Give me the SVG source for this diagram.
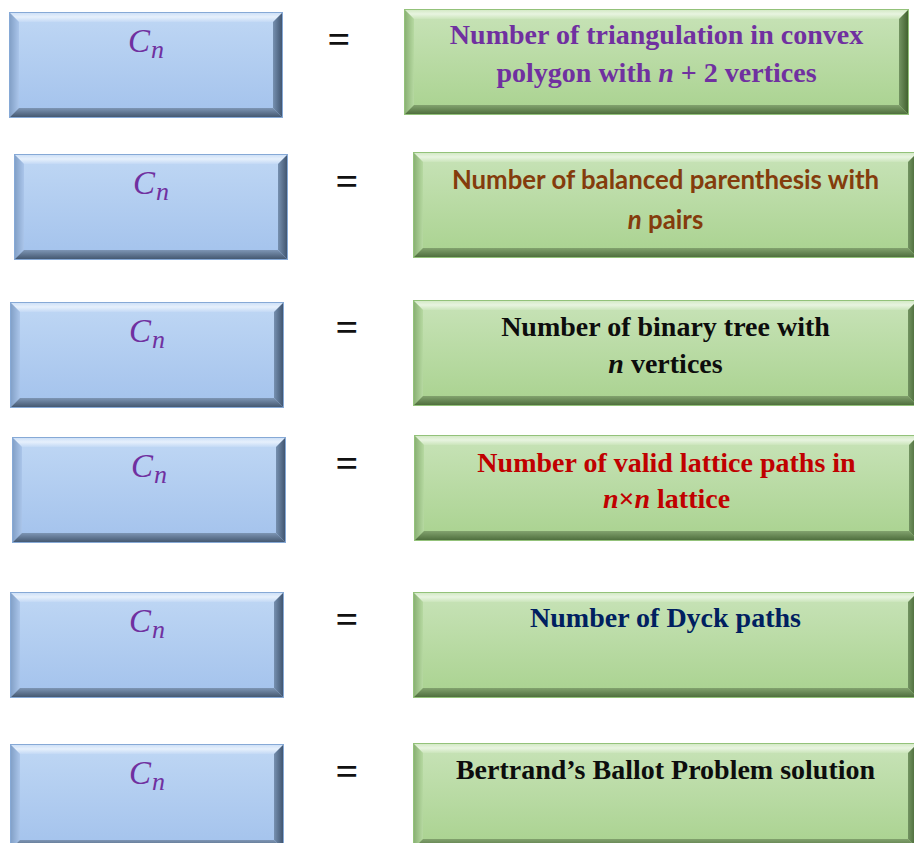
<svg xmlns="http://www.w3.org/2000/svg" xmlns:xlink="http://www.w3.org/1999/xlink" width="914" height="843" viewBox="0 0 914 843">
  <style>
    .cn { font-family: "Liberation Serif", "DejaVu Serif", serif; font-style: italic; fill: #7030a0; font-size: 33px; }
    .cn .sub { font-size: 26px; }
    .eq { font-family: "Liberation Serif", "DejaVu Serif", serif; font-size: 40px; font-weight: bold; fill: #111111; text-anchor: middle; }
    .tr { font-family: "Liberation Serif", "Times New Roman", serif; font-weight: bold; font-size: 28px; text-anchor: middle; }
    .sans { font-family: Lato, "Liberation Sans", sans-serif; font-weight: bold; font-size: 25.8px; text-anchor: middle; }
    .it { font-style: italic; }
  </style>
  <defs>
    <linearGradient id="bBody" x1="0" y1="0" x2="0" y2="1">
      <stop offset="0" stop-color="#bfd7f4"/>
      <stop offset="1" stop-color="#a3c2ec"/>
    </linearGradient>
    <linearGradient id="bTop" x1="0" y1="0" x2="0" y2="1">
      <stop offset="0" stop-color="#c9ddf6"/>
      <stop offset="0.5" stop-color="#e6f0fc"/>
      <stop offset="1" stop-color="#c3d9f5"/>
    </linearGradient>
    <linearGradient id="bLeft" x1="0" y1="0" x2="1" y2="0">
      <stop offset="0" stop-color="#7f9dc4"/>
      <stop offset="1" stop-color="#aac5ea"/>
    </linearGradient>
    <linearGradient id="bRight" x1="1" y1="0" x2="0" y2="0">
      <stop offset="0" stop-color="#3c506a"/>
      <stop offset="1" stop-color="#7690b0"/>
    </linearGradient>
    <linearGradient id="bBottom" x1="0" y1="1" x2="0" y2="0">
      <stop offset="0" stop-color="#3f526a"/>
      <stop offset="1" stop-color="#7d95b4"/>
    </linearGradient>
    <linearGradient id="gBody" x1="0" y1="0" x2="0" y2="1">
      <stop offset="0" stop-color="#c8e3b8"/>
      <stop offset="1" stop-color="#a9d28f"/>
    </linearGradient>
    <linearGradient id="gTop" x1="0" y1="0" x2="0" y2="1">
      <stop offset="0" stop-color="#cfe7c0"/>
      <stop offset="0.5" stop-color="#e8f4e0"/>
      <stop offset="1" stop-color="#cbe5bb"/>
    </linearGradient>
    <linearGradient id="gLeft" x1="0" y1="0" x2="1" y2="0">
      <stop offset="0" stop-color="#86ad70"/>
      <stop offset="1" stop-color="#b6d9a1"/>
    </linearGradient>
    <linearGradient id="gRight" x1="1" y1="0" x2="0" y2="0">
      <stop offset="0" stop-color="#3d5c2b"/>
      <stop offset="1" stop-color="#739462"/>
    </linearGradient>
    <linearGradient id="gBottom" x1="0" y1="1" x2="0" y2="0">
      <stop offset="0" stop-color="#4a6a39"/>
      <stop offset="1" stop-color="#82a26e"/>
    </linearGradient>
    <g id="blue">
      <rect x="0" y="0" width="274" height="106" fill="url(#bBody)"/>
      <polygon points="0,0 274,0 264,10 10,10" fill="url(#bTop)"/>
      <polygon points="0,0 10,10 10,96 0,106" fill="url(#bLeft)"/>
      <polygon points="274,0 264,10 264,96 274,106" fill="url(#bRight)"/>
      <polygon points="0,106 274,106 264,96 10,96" fill="url(#bBottom)"/>
      <rect x="0.5" y="0.5" width="273" height="105" fill="none" stroke="#86a9d6" stroke-width="1"/>
    </g>
    <g id="green">
      <rect x="0" y="0" width="505" height="106" fill="url(#gBody)"/>
      <polygon points="0,0 505,0 495,10 10,10" fill="url(#gTop)"/>
      <polygon points="0,0 10,10 10,96 0,106" fill="url(#gLeft)"/>
      <polygon points="505,0 495,10 495,96 505,106" fill="url(#gRight)"/>
      <polygon points="0,106 505,106 495,96 10,96" fill="url(#gBottom)"/>
      <rect x="0.5" y="0.5" width="504" height="105" fill="none" stroke="#93c27a" stroke-width="1"/>
    </g>
  </defs>

  <rect width="914" height="843" fill="#ffffff"/>

  <!-- Left nodes: C_n -->
  <g id="cn1" transform="translate(9,12)">
    <use xlink:href="#blue" href="#blue"/>
    <text class="cn" x="119" y="40">C<tspan class="sub" dx="1" dy="6">n</tspan></text>
  </g>
  <g id="cn2" transform="translate(14,154)">
    <use xlink:href="#blue" href="#blue"/>
    <text class="cn" x="119" y="40">C<tspan class="sub" dx="1" dy="6">n</tspan></text>
  </g>
  <g id="cn3" transform="translate(10,302)">
    <use xlink:href="#blue" href="#blue"/>
    <text class="cn" x="119" y="40">C<tspan class="sub" dx="1" dy="6">n</tspan></text>
  </g>
  <g id="cn4" transform="translate(12,437)">
    <use xlink:href="#blue" href="#blue"/>
    <text class="cn" x="119" y="40">C<tspan class="sub" dx="1" dy="6">n</tspan></text>
  </g>
  <g id="cn5" transform="translate(10,592)">
    <use xlink:href="#blue" href="#blue"/>
    <text class="cn" x="119" y="40">C<tspan class="sub" dx="1" dy="6">n</tspan></text>
  </g>
  <g id="cn6" transform="translate(10,744)">
    <use xlink:href="#blue" href="#blue"/>
    <text class="cn" x="119" y="40">C<tspan class="sub" dx="1" dy="6">n</tspan></text>
  </g>

  <!-- Equals signs -->
  <g id="equals">
    <text class="eq" x="339" y="53">=</text>
    <text class="eq" x="347" y="195">=</text>
    <text class="eq" x="347" y="341">=</text>
    <text class="eq" x="347" y="477">=</text>
    <text class="eq" x="347" y="633">=</text>
    <text class="eq" x="347" y="785">=</text>
  </g>

  <!-- Right nodes: interpretations -->
  <g id="def1" transform="translate(404,9)">
    <use xlink:href="#green" href="#green"/>
    <text class="tr" fill="#7030a0" x="252.5" y="35">Number of triangulation in convex</text>
    <text class="tr" fill="#7030a0" x="252.5" y="73">polygon with <tspan class="it">n</tspan> + 2 vertices</text>
  </g>
  <g id="def2" transform="translate(413,152)">
    <use xlink:href="#green" href="#green"/>
    <text class="sans" fill="#843c0c" x="252.5" y="37">Number of balanced parenthesis with</text>
    <text class="sans" fill="#843c0c" x="252.5" y="77"><tspan class="it">n</tspan> pairs</text>
  </g>
  <g id="def3" transform="translate(413,300)">
    <use xlink:href="#green" href="#green"/>
    <text class="tr" fill="#0d0d0d" x="252.5" y="36">Number of binary tree with</text>
    <text class="tr" fill="#0d0d0d" x="252.5" y="73"><tspan class="it">n</tspan> vertices</text>
  </g>
  <g id="def4" transform="translate(414,435)">
    <use xlink:href="#green" href="#green"/>
    <text class="tr" fill="#c00000" x="252.5" y="37">Number of valid lattice paths in</text>
    <text class="tr" fill="#c00000" x="252.5" y="73"><tspan class="it">n</tspan>×<tspan class="it">n</tspan> lattice</text>
  </g>
  <g id="def5" transform="translate(413,592)">
    <use xlink:href="#green" href="#green"/>
    <text class="tr" fill="#002060" x="252.5" y="35">Number of Dyck paths</text>
  </g>
  <g id="def6" transform="translate(413,743)">
    <use xlink:href="#green" href="#green"/>
    <text class="tr" fill="#0d0d0d" x="252.5" y="36">Bertrand’s Ballot Problem solution</text>
  </g>

  <g id="connectors"></g>
</svg>
